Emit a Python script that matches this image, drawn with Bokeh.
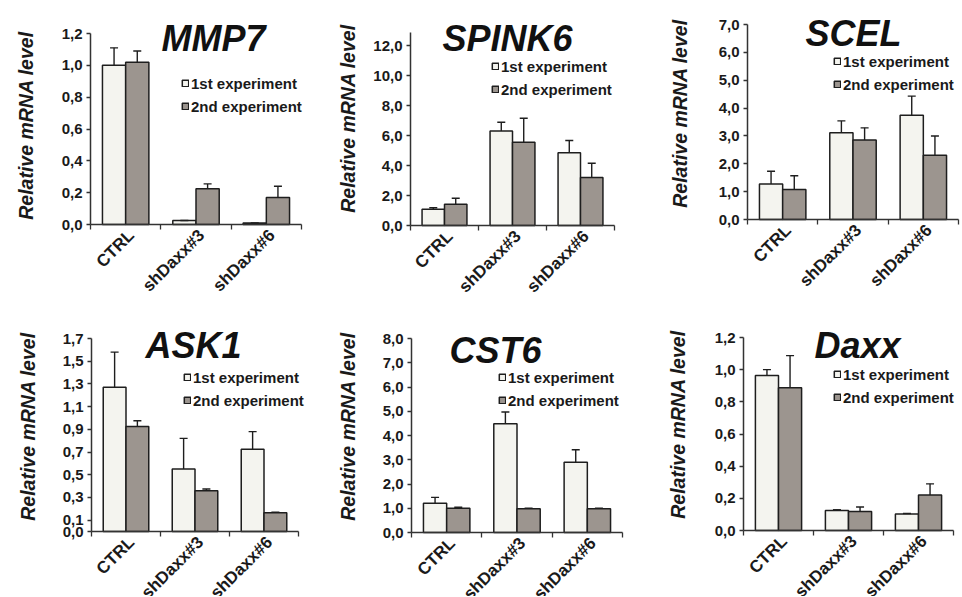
from math import pi
from bokeh.plotting import figure
from bokeh.models import (Range1d, FixedTicker, ColumnDataSource, Whisker, TeeHead,
                          Label, Legend, LegendItem)
from bokeh.layouts import column, row
from bokeh.embed import file_html
from bokeh.resources import INLINE

# ---------------- data ----------------
categories = ["CTRL", "shDaxx#3", "shDaxx#6"]
series_names = ["1st experiment", "2nd experiment"]
y_label = "Relative mRNA level"

mmp7_1st = [1.00, 0.025, 0.01]
mmp7_1st_sd = [0.11, 0.0, 0.0]
mmp7_2nd = [1.02, 0.225, 0.17]
mmp7_2nd_sd = [0.07, 0.03, 0.07]
mmp7_ticks = [0.0, 0.2, 0.4, 0.6, 0.8, 1.0, 1.2]
mmp7_tick_labels = ["0,0", "0,2", "0,4", "0,6", "0,8", "1,0", "1,2"]

spink6_1st = [1.08, 6.3, 4.85]
spink6_1st_sd = [0.1, 0.58, 0.82]
spink6_2nd = [1.42, 5.55, 3.2]
spink6_2nd_sd = [0.4, 1.6, 0.95]
spink6_ticks = [0.0, 2.0, 4.0, 6.0, 8.0, 10.0, 12.0]
spink6_tick_labels = ["0,0", "2,0", "4,0", "6,0", "8,0", "10,0", "12,0"]

scel_1st = [1.27, 3.11, 3.74]
scel_1st_sd = [0.46, 0.43, 0.69]
scel_2nd = [1.08, 2.85, 2.31]
scel_2nd_sd = [0.49, 0.44, 0.69]
scel_ticks = [0.0, 1.0, 2.0, 3.0, 4.0, 5.0, 6.0, 7.0]
scel_tick_labels = ["0,0", "1,0", "2,0", "3,0", "4,0", "5,0", "6,0", "7,0"]

ask1_1st = [1.27, 0.55, 0.725]
ask1_1st_sd = [0.31, 0.27, 0.155]
ask1_2nd = [0.925, 0.36, 0.165]
ask1_2nd_sd = [0.05, 0.015, 0.005]
ask1_ticks = [0.0, 0.1, 0.3, 0.5, 0.7, 0.9, 1.1, 1.3, 1.5, 1.7]
ask1_tick_labels = ["0,0", "0,1", "0,3", "0,5", "0,7", "0,9", "1,1", "1,3", "1,5", "1,7"]

cst6_1st = [1.21, 4.48, 2.9]
cst6_1st_sd = [0.24, 0.49, 0.51]
cst6_2nd = [1.0, 0.98, 0.98]
cst6_2nd_sd = [0.04, 0.02, 0.02]
cst6_ticks = [0.0, 1.0, 2.0, 3.0, 4.0, 5.0, 6.0, 7.0, 8.0]
cst6_tick_labels = ["0,0", "1,0", "2,0", "3,0", "4,0", "5,0", "6,0", "7,0", "8,0"]

daxx_1st = [0.964, 0.125, 0.103]
daxx_1st_sd = [0.036, 0.004, 0.003]
daxx_2nd = [0.887, 0.118, 0.22]
daxx_2nd_sd = [0.2, 0.028, 0.07]
daxx_ticks = [0.0, 0.2, 0.4, 0.6, 0.8, 1.0, 1.2]
daxx_tick_labels = ["0,0", "0,2", "0,4", "0,6", "0,8", "1,0", "1,2"]

# ---------------- style / layout ----------------
FONT = "Liberation Sans"
FILL_1 = "#f4f4ef"
FILL_2 = "#9c958f"
EDGE = "#1e1e1e"
AXIS = "#333333"
TEXT = "#1a1a1a"

# Pixel geometry in figure coordinates (the frame fills the whole figure and
# the axes sit at fixed positions inside it):
# L/R = x of axis start/end, B = y of value 0, T = y of top tick,
# title = centre of gene name, leg = legend square left / first row centre,
# ylab = centre of the vertical axis title.
panels = [
    dict(name="MMP7", a=mmp7_1st, asd=mmp7_1st_sd, b=mmp7_2nd, bsd=mmp7_2nd_sd,
         ticks=mmp7_ticks, tl=mmp7_tick_labels, ybound=1.2,
         w=320, h=300, L=90, R=301, T=33, B=224,
         title=(213, 38), leg=(181, 83), ylab=(25, 125)),
    dict(name="SPINK6", a=spink6_1st, asd=spink6_1st_sd, b=spink6_2nd, bsd=spink6_2nd_sd,
         ticks=spink6_ticks, tl=spink6_tick_labels, ybound=12.87,
         w=320, h=300, L=90, R=294, T=45, B=225,
         title=(187, 38), leg=(171, 66), ylab=(27, 118)),
    dict(name="SCEL", a=scel_1st, asd=scel_1st_sd, b=scel_2nd, bsd=scel_2nd_sd,
         ticks=scel_ticks, tl=scel_tick_labels, ybound=7.0,
         w=320, h=300, L=107, R=318, T=24, B=219,
         title=(213, 33), leg=(193, 61), ylab=(39, 113)),
    dict(name="ASK1", a=ask1_1st, asd=ask1_1st_sd, b=ask1_2nd, bsd=ask1_2nd_sd,
         ticks=ask1_ticks, tl=ask1_tick_labels, ybound=1.7,
         w=320, h=296, L=91, R=298, T=38, B=231,
         title=(193, 45), leg=(183, 77), ylab=(27, 126)),
    dict(name="CST6", a=cst6_1st, asd=cst6_1st_sd, b=cst6_2nd, bsd=cst6_2nd_sd,
         ticks=cst6_ticks, tl=cst6_tick_labels, ybound=8.0,
         w=320, h=296, L=91, R=302, T=38, B=232,
         title=(175, 50), leg=(178, 77), ylab=(27, 126)),
    dict(name="Daxx", a=daxx_1st, asd=daxx_1st_sd, b=daxx_2nd, bsd=daxx_2nd_sd,
         ticks=daxx_ticks, tl=daxx_tick_labels, ybound=1.2,
         w=320, h=296, L=103, R=313, T=37, B=230,
         title=(217, 45), leg=(193, 74), ylab=(37, 124)),
]

BAR_W = 0.33
LABEL_SHIFT = 0.08
n = len(categories)
centers = [i + 0.5 for i in range(n)]


def make_panel(cfg):
    w, h = cfg["w"], cfg["h"]
    L, R, T, B = cfg["L"], cfg["R"], cfg["T"], cfg["B"]
    top_tick = cfg["ticks"][-1]
    sy = top_tick / (B - T)          # data units per pixel (y)
    sx = n / (R - L)                 # data units per pixel (x)

    def dx(px):                      # figure pixel x -> data x
        return (px - L) * sx

    def dy(py):                      # figure pixel y -> data y
        return (B - py) * sy

    p = figure(width=w, height=h,
               x_range=Range1d(dx(0), dx(w)), y_range=Range1d(dy(h), dy(0)),
               output_backend="svg", toolbar_location=None, tools="",
               min_border_left=0, min_border_right=0,
               min_border_top=0, min_border_bottom=0)
    p.outline_line_color = None
    p.xgrid.visible = False
    p.ygrid.visible = False
    p.background_fill_color = "white"
    p.border_fill_color = "white"

    renderers = []
    for vals, sds, off, fill in ((cfg["a"], cfg["asd"], -BAR_W / 2, FILL_1),
                                 (cfg["b"], cfg["bsd"], BAR_W / 2, FILL_2)):
        xs = [c + off for c in centers]
        src = ColumnDataSource(dict(x=xs, top=vals,
                                    upper=[v + s for v, s in zip(vals, sds)]))
        r = p.vbar(x="x", top="top", bottom=0, width=BAR_W, source=src,
                   fill_color=fill, line_color=EDGE, line_width=1.5)
        renderers.append(r)
        wh = Whisker(source=src, base="x", lower="top", upper="upper",
                     dimension="height", line_color=EDGE, line_width=1.4,
                     upper_head=TeeHead(size=8, line_color=EDGE, line_width=1.4),
                     lower_head=None, level="overlay")
        p.add_layout(wh)

    # x axis (category boundaries carry the tick marks)
    label_pos = [c + LABEL_SHIFT for c in centers]
    xa = p.xaxis[0]
    xa.fixed_location = 0
    xa.bounds = (0, n)
    xa.ticker = FixedTicker(ticks=label_pos, minor_ticks=list(range(n + 1)))
    xa.major_label_overrides = {c: lab for c, lab in zip(label_pos, categories)}
    xa.major_label_orientation = pi / 4
    xa.major_tick_line_color = None
    xa.major_tick_out = 0
    xa.major_tick_in = 0
    xa.minor_tick_out = 5
    xa.minor_tick_in = 0
    xa.minor_tick_line_color = AXIS
    xa.minor_tick_line_width = 1.3
    xa.axis_line_color = AXIS
    xa.axis_line_width = 1.5
    xa.major_label_standoff = 3
    xa.major_label_text_font = FONT
    xa.major_label_text_font_style = "bold"
    xa.major_label_text_font_size = "17px"
    xa.major_label_text_color = TEXT

    # y axis
    ya = p.yaxis[0]
    ya.fixed_location = 0
    ya.bounds = (0, cfg["ybound"])
    ya.ticker = FixedTicker(ticks=cfg["ticks"], minor_ticks=[])
    ya.major_label_overrides = {t: lab for t, lab in zip(cfg["ticks"], cfg["tl"])}
    ya.major_tick_out = 4
    ya.major_tick_in = 0
    ya.major_tick_line_color = AXIS
    ya.major_tick_line_width = 1.3
    ya.minor_tick_line_color = None
    ya.axis_line_color = AXIS
    ya.axis_line_width = 1.5
    ya.major_label_standoff = 4
    ya.major_label_text_font = FONT
    ya.major_label_text_font_style = "bold"
    ya.major_label_text_font_size = "15px"
    ya.major_label_text_color = TEXT

    # vertical axis title
    lx, ly = cfg["ylab"]
    p.add_layout(Label(x=dx(lx), y=dy(ly), text=y_label, angle=pi / 2,
                       text_align="center", text_baseline="middle",
                       text_font=FONT, text_font_style="bold italic",
                       text_font_size="19.5px", text_color=TEXT))

    # gene name
    tx, ty = cfg["title"]
    p.add_layout(Label(x=dx(tx), y=dy(ty), text=cfg["name"],
                       text_align="center", text_baseline="middle",
                       text_font=FONT, text_font_style="bold italic",
                       text_font_size="36px", text_color="#111111"))

    gx, gy = cfg["leg"]
    leg = Legend(items=[LegendItem(label=series_names[0], renderers=[renderers[0]]),
                        LegendItem(label=series_names[1], renderers=[renderers[1]])],
                 location=(gx, h - (gy - 8.5 + 40)), orientation="vertical",
                 glyph_width=8, glyph_height=8, label_standoff=2,
                 label_height=17, spacing=6, padding=0, margin=0,
                 label_text_font=FONT, label_text_font_style="bold",
                 label_text_font_size="15px", label_text_color=TEXT,
                 border_line_color=None, background_fill_alpha=0)
    p.add_layout(leg)
    return p


figs = [make_panel(c) for c in panels]
layout = column(row(*figs[:3]), row(*figs[3:]))

open("out.html", "w").write(file_html(layout, INLINE))
